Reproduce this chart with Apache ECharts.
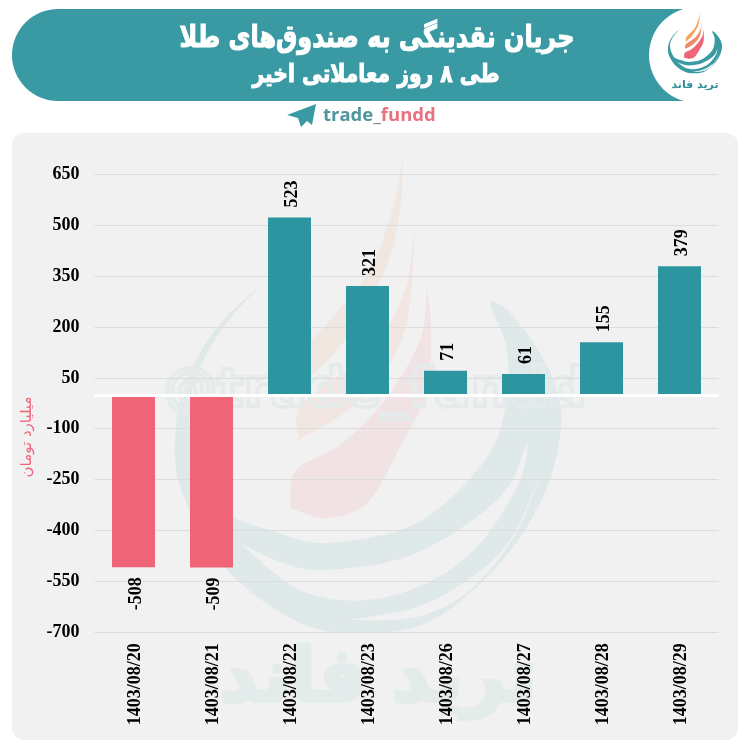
<!DOCTYPE html>
<html><head><meta charset="utf-8">
<style>html,body{margin:0;padding:0;background:#fff}#c{width:750px;height:750px}</style>
<script src="https://cdn.jsdelivr.net/npm/echarts@6/dist/echarts.min.js"></script>
</head><body><div id="c"></div>
<script>
const categories = ['1403/08/20','1403/08/21','1403/08/22','1403/08/23','1403/08/26','1403/08/27','1403/08/28','1403/08/29'];
const flowValues = [-508,-509,523,321,71,61,155,379];
const yTicks = [-700,-550,-400,-250,-100,50,200,350,500,650];
const titleText = 'جریان نقدینگی به صندوق‌های طلا';
const subtitleText = 'طی ۸ روز معاملاتی اخیر';
const unitText = 'میلیارد تومان';
const brandText = 'ترید فاند';

const TEAL='#2d95a0', PINK='#f06478', HEADER='#3a9aa3', PANEL='#f1f1f1', SERIF='"Liberation Serif","Times New Roman",serif';

// open Catmull-Rom sampling, for decorative emblem outlines only
function curve(p){const o=[];for(let i=0;i<p.length-1;i++){const a=p[Math.max(i-1,0)],b=p[i],c=p[i+1],d=p[Math.min(i+2,p.length-1)];
 for(let k=0;k<8;k++){const t=k/8,t2=t*t,t3=t2*t;o.push([0,1].map(j=>0.5*(2*b[j]+(c[j]-a[j])*t+(2*a[j]-5*b[j]+4*c[j]-d[j])*t2+(3*b[j]-a[j]-3*c[j]+d[j])*t3)));}}
 o.push(p[p.length-1]);return o;}
function blade(e1,e2){return curve(e1).concat(curve(e2));}

const waveBody=blade(
 [[268,278],[215,330],[185,385],[175,440],[183,495],[227,570],[300,623],[367,633],[433,620],[500,563],[543,497],[561,430],[555,385],[535,345],[508,310]],
 [[508,310],[490,303],[507,350],[505,410],[483,463],[417,523],[327,543],[270,530],[227,513],[205,480],[190,430],[195,380],[225,325],[268,278]]);
const waveGaps=[
 blade([[240,543],[283,563],[330,570],[417,553],[500,497],[528,440]],[[528,440],[520,480],[483,540],[433,580],[367,600],[300,590],[240,543]]),
 blade([[350,620],[417,617],[470,590],[515,535],[541,473]],[[541,473],[510,540],[470,578],[417,607],[350,620]])
];
const flameShapes=[
 blade([[403,150],[395,200],[370,270],[330,320],[305,350],[302,385]],[[302,385],[345,340],[385,270],[400,210],[403,150]]),
 blade([[415,218],[405,290],[370,350],[302,405],[299,440]],[[299,440],[360,400],[405,330],[415,218]]),
 blade([[427,288],[420,340],[385,400],[340,445],[296,470],[290,508]],[[290,508],[327,518],[367,503],[400,447],[427,390],[431,330],[427,288]])
];
function emblem(teal,gap,flames,ox,oy,sx,sy,z){
 const poly=(p,fill,dz)=>({type:'polygon',z:z+dz,silent:true,shape:{points:p},style:{fill}});
 return {type:'group',x:ox,y:oy,scaleX:sx,scaleY:sy,children:
  [poly(waveBody,teal,0)].concat(waveGaps.map(p=>poly(p,gap,0.1)),flameShapes.map((p,i)=>poly(p,flames[i],0.2)))};
}
const LS=0.14, LY=0.127;
const graphics=[
 {type:'rect',z:-20,silent:true,shape:{x:12,y:133,width:726,height:607,r:12},style:{fill:PANEL}},
 emblem('#e0e9e9',PANEL,['#f1e7e1','#f1e6e2','#f1e3e3'],0,0,1,1,-10),
 {type:'text',z:-6,silent:true,style:{x:375,y:392,text:'@trade_fundd',align:'center',verticalAlign:'middle',font:'bold 54px "DejaVu Sans"',fill:'rgba(0,0,0,0)',stroke:'#e5eaea',lineWidth:4}},
 {type:'text',z:-6,silent:true,style:{x:378,y:682,text:brandText,align:'center',verticalAlign:'middle',font:'bold 74px "DejaVu Sans"',fill:'#e4ebeb',stroke:'#e4ebeb',lineWidth:4}},
 {type:'rect',z:-5,silent:true,shape:{x:12,y:9,width:690,height:92,r:[46,0,0,46]},style:{fill:HEADER}},
 {type:'circle',z:-4,silent:true,shape:{cx:697,cy:55,r:48},style:{fill:'#fff'}},
 emblem('#3a9aa3','#fff',['#f2a35f','#f08a68','#f06478'],695-368*LS,12-150*LY,LS,LY,-3),
 {type:'text',z:-2,silent:true,style:{x:695,y:85,text:brandText,align:'center',verticalAlign:'middle',font:'bold 11px "DejaVu Sans"',fill:'#2d8f9a'}},
 {type:'polygon',z:-2,silent:true,shape:{points:[[316,104],[287,115],[298,118],[301,127],[307,121],[312,125]]},style:{fill:HEADER}},
 {type:'text',z:-2,silent:true,style:{x:323,y:116,align:'left',verticalAlign:'middle',
   text:'{a|trade}{b|_}{c|fundd}',rich:{
    a:{fill:'#4f959d',font:'bold 18.5px "Open Sans"'},b:{fill:'#8a8f94',font:'bold 18.5px "Open Sans"'},c:{fill:'#e8707f',font:'bold 18.5px "Open Sans"'}}}},
 {type:'text',silent:true,rotation:Math.PI/2,x:27,y:437,style:{x:0,y:0,text:unitText,align:'center',verticalAlign:'middle',font:'15px "DejaVu Sans"',fill:PINK}},
 {type:'text',z:5,silent:true,x:377,y:39,scaleX:0.885,scaleY:1.12,style:{x:0,y:0,text:titleText,align:'center',verticalAlign:'middle',font:'bold 27px "DejaVu Sans"',fill:'#fff',stroke:'#fff',lineWidth:1}},
 {type:'text',z:5,silent:true,x:376,y:76,scaleX:0.925,scaleY:1.12,style:{x:0,y:0,text:subtitleText,align:'center',verticalAlign:'middle',font:'bold 22px "DejaVu Sans"',fill:'#fff',stroke:'#fff',lineWidth:0.9}}
];

const chart=echarts.init(document.getElementById('c'),null,{renderer:'canvas'});
chart.setOption({
 animation:false,backgroundColor:'#fff',
 graphic:{elements:graphics},
 grid:{left:94.5,right:31.5,top:174.3,height:458},
 xAxis:{type:'category',data:categories,axisLine:{show:false,onZero:false},axisTick:{show:false},splitLine:{show:false},
  axisLabel:{rotate:90,margin:11,color:'#000',fontFamily:SERIF,fontWeight:'bold',fontSize:18,interval:0,verticalAlign:'top',lineHeight:4}},
 yAxis:{type:'value',min:-700,max:650,
  axisLine:{show:false},axisTick:{show:false,customValues:yTicks},
  axisLabel:{customValues:yTicks,margin:15,color:'#000',fontFamily:SERIF,fontWeight:'bold',fontSize:18},
  splitLine:{show:true,lineStyle:{color:'#dcdcdc',width:1}}},
 series:[{type:'bar',barWidth:43,
  data:flowValues.map(v=>({value:v,itemStyle:{color:v<0?PINK:TEAL},
   label:{show:true,rotate:90,distance:10,offset:[0,2.5],position:v<0?'bottom':'top',align:v<0?'right':'left',verticalAlign:'middle',
     color:'#000',fontFamily:SERIF,fontWeight:'bold',fontSize:18}})),
  markLine:{silent:true,symbol:'none',label:{show:false},lineStyle:{color:'#fff',width:3,type:'solid'},data:[{yAxis:0}]}
 }]
});
</script></body></html>
